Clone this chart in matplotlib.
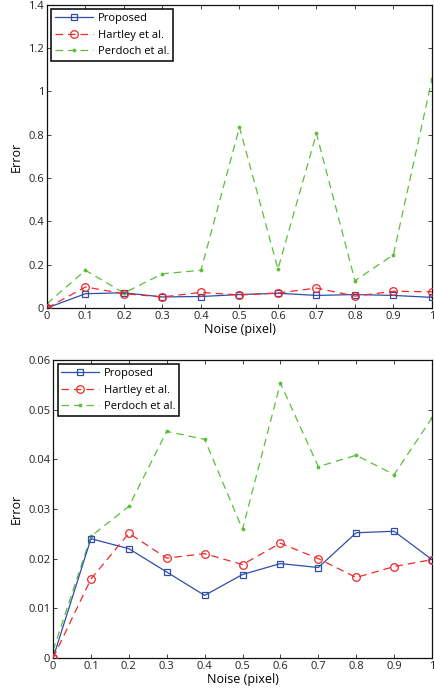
import matplotlib
matplotlib.use("Agg")
import matplotlib.pyplot as plt

# Noise levels (pixel)
noise = [0.0, 0.1, 0.2, 0.3, 0.4, 0.5, 0.6, 0.7, 0.8, 0.9, 1.0]

# Top panel
top_proposed = [0.0, 0.066, 0.070, 0.051, 0.053, 0.062, 0.068, 0.058, 0.062, 0.058, 0.049]
top_hartley = [0.0, 0.097, 0.066, 0.051, 0.072, 0.060, 0.069, 0.092, 0.055, 0.077, 0.075]
top_perdoch = [0.020, 0.174, 0.069, 0.158, 0.174, 0.835, 0.180, 0.806, 0.126, 0.246, 1.057]

# Bottom panel
bot_proposed = [0.0, 0.0240, 0.0220, 0.0173, 0.0126, 0.0168, 0.0190, 0.0182, 0.0252, 0.0255, 0.0198]
bot_hartley = [0.0, 0.0159, 0.0251, 0.0201, 0.0210, 0.0188, 0.0231, 0.0200, 0.0162, 0.0184, 0.0198]
bot_perdoch = [0.0015, 0.0245, 0.0305, 0.0456, 0.0440, 0.0259, 0.0553, 0.0385, 0.0408, 0.0369, 0.0483]

x_ticks = [0, 0.1, 0.2, 0.3, 0.4, 0.5, 0.6, 0.7, 0.8, 0.9, 1]
x_ticklabels = ["0", "0.1", "0.2", "0.3", "0.4", "0.5", "0.6", "0.7", "0.8", "0.9", "1"]
top_yticks = [0, 0.2, 0.4, 0.6, 0.8, 1.0, 1.2, 1.4]
top_yticklabels = ["0", "0.2", "0.4", "0.6", "0.8", "1", "1.2", "1.4"]
bot_yticks = [0, 0.01, 0.02, 0.03, 0.04, 0.05, 0.06]
bot_yticklabels = ["0", "0.01", "0.02", "0.03", "0.04", "0.05", "0.06"]

BLUE = "#2f4fa6"
RED = "#ee2a2a"
GREEN = "#5cbf3a"

plt.rcParams["font.family"] = ["Open Sans", "DejaVu Sans"]

fig = plt.figure(figsize=(4.35, 6.96), dpi=100)
ax_top = fig.add_axes([0.108, 0.5575, 0.885, 0.4355])
ax_bot = fig.add_axes([0.122, 0.0546, 0.871, 0.4284])


def draw(ax, p, h, d, yticks, ylabels, ymax):
    ax.plot(noise, p, "-", color=BLUE, lw=0.9, marker="s", ms=5,
            mfc="none", mec=BLUE, mew=0.9, label="Proposed", zorder=3)
    ax.plot(noise, h, color=RED, lw=0.9, ls=(0, (6, 4)), marker="o", ms=5.5,
            mfc="none", mec=RED, mew=0.9, label="Hartley et al.", zorder=3)
    ax.plot(noise, d, color=GREEN, lw=0.9, ls=(0, (6, 4)), marker=".", ms=3.5,
            mfc=GREEN, mec=GREEN, label="Perdoch et al.", zorder=2)
    ax.set_xlim(0, 1)
    ax.set_ylim(0, ymax)
    ax.set_xticks(x_ticks)
    ax.set_xticklabels(x_ticklabels)
    ax.set_yticks(yticks)
    ax.set_yticklabels(ylabels)
    ax.tick_params(direction="in", length=3, width=0.6, labelsize=8,
                   top=True, right=True, pad=2, colors="#222222")
    for s in ax.spines.values():
        s.set_linewidth(0.9)
        s.set_color("#111111")
    ax.set_xlabel("Noise (pixel)", fontsize=9, labelpad=1)
    ax.set_ylabel("Error", fontsize=9, labelpad=4)
    leg = ax.legend(loc="upper left", fontsize=8, fancybox=False,
                    edgecolor="black", framealpha=1, borderpad=0.35,
                    handlelength=3.4, handletextpad=0.4, labelspacing=0.5,
                    borderaxespad=0.4)
    leg.get_frame().set_linewidth(1.1)


draw(ax_top, top_proposed, top_hartley, top_perdoch, top_yticks, top_yticklabels, 1.4)
draw(ax_bot, bot_proposed, bot_hartley, bot_perdoch, bot_yticks, bot_yticklabels, 0.06)

fig.savefig("out.png", dpi=100)
plt.close(fig)
